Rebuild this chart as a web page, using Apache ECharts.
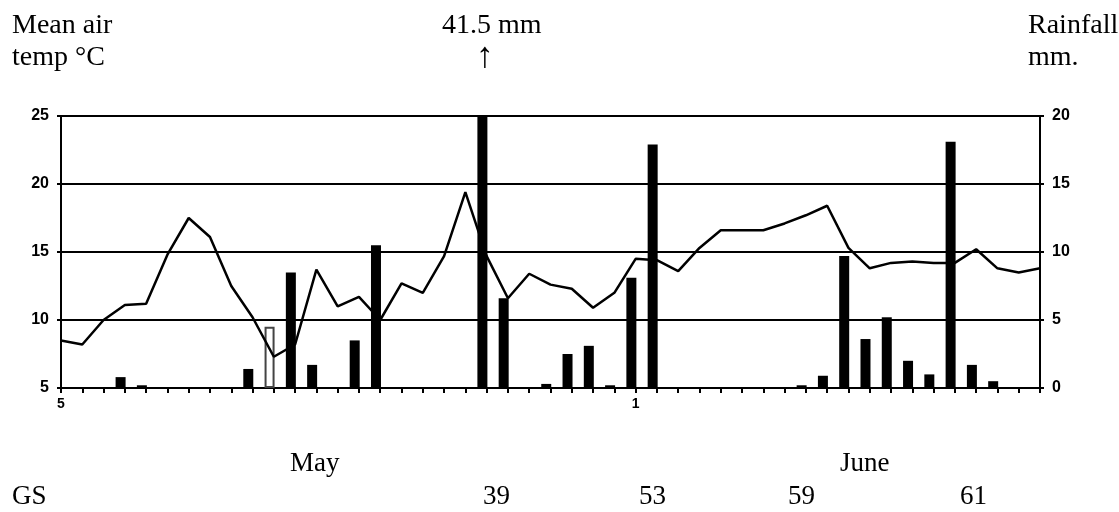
<!DOCTYPE html>
<html><head><meta charset="utf-8">
<script src="https://cdn.jsdelivr.net/npm/echarts@6/dist/echarts.min.js"></script>
<style>html,body{margin:0;padding:0;background:#fff}#c{width:1119px;height:512px}</style>
</head><body><div id="c"></div>
<script>
// Days: 5 May .. 20 June (one tick per day)
const dayLabels = ['5','6','7','8','9','10','11','12','13','14','15','16','17','18','19','20','21','22','23','24','25','26','27','28','29','30','31',
  '1','2','3','4','5','6','7','8','9','10','11','12','13','14','15','16','17','18','19','20'];
const labelledDays = [0, 27]; // only "5" (May) and "1" (June) are printed
// Mean air temperature, °C
const meanAirTemp = [8.5,8.2,10.0,11.1,11.2,14.8,17.5,16.1,12.5,10.2,7.3,8.2,13.7,11.0,11.7,10.0,12.7,12.0,14.7,19.4,
  14.7,11.6,13.4,12.6,12.3,10.9,12.0,14.5,14.4,13.6,15.3,16.6,16.6,16.6,17.1,17.7,18.4,15.3,13.8,14.2,
  14.3,14.2,14.2,15.2,13.8,13.5,13.8];
// Rainfall, mm (day 20 = 41.5 mm, off the scale)
const rainfall = [0,0,0,0.8,0.2,0,0,0,0,1.4,4.5,8.5,1.7,0,3.5,10.5,0,0,0,0,
  41.5,6.6,0,0.3,2.5,3.1,0.2,8.1,17.9,0,0,0,0,0,0,0.2,0.9,9.7,3.6,5.2,
  2.0,1.0,18.1,1.7,0.5,0,0];
const hollowBarDays = [10];
const tempTicks = [5, 25, 5];   // min, max, interval
const rainTicks = [0, 20, 5];
const monthLabels = ['May', 'June'];
const growthStages = ['39', '53', '59', '61'];

const chart = echarts.init(document.getElementById('c'));
const serif = '"Liberation Serif", "DejaVu Serif", serif';
const labelFont = {fontFamily: '"Liberation Sans", Arial, sans-serif', fontWeight: 'bold', color: '#000'};

function txt(text, x, y, align, size) {
  return {type: 'text', x: x, y: y, style: {text: text, fontFamily: serif, fontSize: size || 27, fill: '#000', align: align || 'left', verticalAlign: 'middle'}};
}

chart.setOption({
  animation: false,
  backgroundColor: '#fff',
  grid: {left: 61, right: 79, top: 116, bottom: 124},
  xAxis: [{
    type: 'value', min: 0, max: dayLabels.length - 1, interval: 1,
    axisLine: {lineStyle: {color: '#000', width: 2}},
    axisTick: {show: true, length: 5, lineStyle: {color: '#000', width: 2}},
    splitLine: {show: false},
    axisLabel: Object.assign({fontSize: 14, margin: 9, showMinLabel: true, showMaxLabel: true,
      formatter: v => labelledDays.indexOf(v) >= 0 ? dayLabels[v] : ''}, labelFont)
  }, {
    type: 'value', min: 0.2, max: dayLabels.length - 0.8, show: false
  }],
  yAxis: [{
    type: 'value', min: tempTicks[0], max: tempTicks[1], interval: tempTicks[2], position: 'left',
    axisLine: {show: true, lineStyle: {color: '#000', width: 2}},
    axisTick: {show: true, length: 4, lineStyle: {color: '#000', width: 2}},
    splitLine: {show: true, lineStyle: {color: '#000', width: 2}},
    axisLabel: Object.assign({fontSize: 16, margin: 12}, labelFont)
  }, {
    type: 'value', min: rainTicks[0], max: rainTicks[1], interval: rainTicks[2], position: 'right',
    axisLine: {show: true, lineStyle: {color: '#000', width: 2}},
    axisTick: {show: true, length: 4, lineStyle: {color: '#000', width: 2}},
    splitLine: {show: false},
    axisLabel: Object.assign({fontSize: 16, margin: 12}, labelFont)
  }],
  series: [{
    type: 'bar', xAxisIndex: 1, yAxisIndex: 1, barWidth: 10, clip: true,
    data: rainfall.map((v, i) => hollowBarDays.indexOf(i) >= 0
      ? {value: [i, v], itemStyle: {color: '#fff', borderColor: '#444', borderWidth: 2}}
      : [i, v]),
    itemStyle: {color: '#000'}, z: 2
  }, {
    type: 'line', xAxisIndex: 0, yAxisIndex: 0, showSymbol: false,
    data: meanAirTemp.map((v, i) => [i, v]),
    lineStyle: {color: '#000', width: 2.5}, z: 3
  }],
  graphic: [
    txt('Mean air', 12, 26, 'left', 28), txt('temp °C', 12, 58, 'left', 28),
    txt('41.5 mm', 442, 26, 'left', 28), txt('↑', 485, 58, 'center', 36),
    txt('Rainfall', 1028, 26, 'left', 28), txt('mm.', 1028, 58, 'left', 28),
    txt(monthLabels[0], 290, 464), txt(monthLabels[1], 840, 464),
    txt('GS', 12, 497),
    txt(growthStages[0], 483, 497), txt(growthStages[1], 639, 497),
    txt(growthStages[2], 788, 497), txt(growthStages[3], 960, 497)
  ]
});
</script></body></html>
